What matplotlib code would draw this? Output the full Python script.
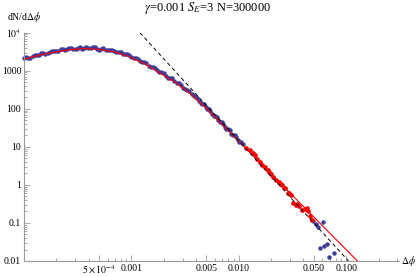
import matplotlib
matplotlib.use('Agg')
import matplotlib.pyplot as plt
from matplotlib.ticker import FixedLocator, FixedFormatter, NullFormatter

plt.rcParams['font.family'] = 'Liberation Serif'
plt.rcParams['mathtext.fontset'] = 'stix'

# histogram points (blue, dense part)
dphi_blue = [1.00e-4, 1.096e-4, 1.202e-4, 1.318e-4, 1.445e-4, 1.585e-4, 1.738e-4, 1.905e-4,
             2.089e-4, 2.291e-4, 2.512e-4, 2.754e-4, 3.020e-4, 3.311e-4, 3.631e-4, 3.981e-4,
             4.365e-4, 4.786e-4, 5.248e-4, 5.754e-4, 6.310e-4, 6.918e-4, 7.586e-4, 8.318e-4,
             9.120e-4, 1.0e-3, 1.096e-3, 1.202e-3, 1.318e-3, 1.445e-3, 1.585e-3, 1.738e-3,
             1.905e-3, 2.089e-3, 2.291e-3, 2.512e-3, 2.754e-3, 3.020e-3, 3.311e-3, 3.631e-3,
             3.981e-3, 4.266e-3, 4.571e-3, 4.898e-3, 5.248e-3, 5.623e-3, 6.026e-3, 6.457e-3,
             6.918e-3, 7.413e-3, 7.943e-3, 8.511e-3, 9.120e-3, 9.772e-3, 1.047e-2,
             1.047e-4, 1.148e-4, 1.259e-4, 1.380e-4, 1.514e-4, 1.660e-4, 1.820e-4, 1.995e-4,
             2.188e-4, 2.399e-4, 2.630e-4, 2.884e-4, 3.162e-4, 3.467e-4, 3.802e-4, 4.169e-4,
             4.571e-4, 5.012e-4, 5.495e-4, 6.026e-4, 6.607e-4, 7.244e-4, 7.943e-4, 8.710e-4,
             9.550e-4, 1.047e-3, 1.148e-3, 1.259e-3, 1.380e-3, 1.514e-3, 1.660e-3, 1.820e-3,
             1.995e-3, 2.188e-3, 2.399e-3, 2.630e-3, 2.884e-3, 3.162e-3, 3.467e-3, 3.802e-3,
             4.121e-3, 4.416e-3, 4.732e-3, 5.070e-3, 5.433e-3, 5.821e-3, 6.237e-3, 6.683e-3,
             7.161e-3, 7.674e-3, 8.222e-3, 8.810e-3, 9.441e-3, 1.012e-2, 1.084e-2]
dn_blue = [2138, 2138, 2512, 2570, 2944, 2825, 3119, 3357,
           3281, 3673, 3664, 3890, 3776, 4121, 3999, 4055,
           4083, 3741, 3828, 3581, 3597, 3214, 3119, 2793,
           2685, 2280, 2113, 1828, 1694, 1368, 1227, 1028,
           920, 729, 650, 540, 468, 361, 311, 246,
           202, 157, 137, 112, 96.2, 73.8, 63.4, 50.9,
           43.9, 33.6, 28.9, 22.1, 20.0, 15.3, 13.2,
           2291, 2213, 2661, 2630, 2917, 2871, 3388, 3281,
           3639, 3428, 3999, 3793, 4036, 3837, 4315, 3936,
           4093, 3614, 3926, 3467, 3483, 3062, 3162, 2679,
           2594, 2099, 2084, 1702, 1560, 1253, 1205, 951,
           859, 658, 628, 485, 421, 324, 296, 218,
           187, 141, 131, 100, 86.3, 66.1, 61.0, 46.2,
           40.2, 29.8, 27.4, 20.8, 17.9, 13.7, 11.9]

# sparse tail points (blue)
dphi_tail = [0.0488, 0.0520, 0.0543, 0.0604, 0.0566, 0.0618, 0.0659, 0.0687, 0.0766]
dn_tail = [0.111, 0.0925, 0.0771, 0.104, 0.0216, 0.0244, 0.0275, 0.0125, 0.0160]

# points used for the fit (red)
dphi_red = [0.01161, 0.01265, 0.01349, 0.0140, 0.01469, 0.01567, 0.01637, 0.01746, 0.01862,
            0.0190, 0.01986, 0.0207, 0.0221, 0.0236, 0.0245, 0.0251, 0.0268, 0.0286, 0.0295,
            0.0305, 0.0318, 0.0339, 0.0350, 0.0361, 0.0385, 0.0411, 0.0430, 0.0440, 0.0457, 0.0478]
dn_red = [9.24, 8.18, 6.82, 6.0, 4.74, 3.95, 3.30, 2.92, 2.44,
          2.2, 1.91, 1.60, 1.33, 1.18, 1.05, 0.98, 0.82, 0.605, 0.60,
          0.536, 0.330, 0.292, 0.31, 0.275, 0.216, 0.230, 0.244, 0.20, 0.150, 0.118]

# fitted curve (red line)
dphi_fit = [1.0e-4, 1.4e-4, 1.95e-4, 2.7e-4, 3.7e-4, 5.1e-4, 7.0e-4, 9.7e-4, 1.34e-3,
            1.84e-3, 2.54e-3, 3.5e-3, 4.83e-3, 6.66e-3, 9.6e-3, 0.0194, 0.04, 0.08, 0.13]
dn_fit = [2000, 2590, 3100, 3600, 3840, 3610, 3100, 2300, 1500,
          870, 505, 259, 111, 44.7, 15.8, 2.12, 0.270, 0.0374, 0.00939]

# power law guide (dashed)
dphi_guide = [1.2e-3, 0.105]
dn_guide = [1e4, 0.01]

xticks = [5e-4, 1e-3, 5e-3, 1e-2, 5e-2, 1e-1]
xtick_labels = [r'$5\times10^{-4}$', '0.001', '0.005', '0.010', '0.050', '0.100']
yticks = [0.01, 0.1, 1, 10, 100, 1000, 1e4]
ytick_labels = ['0.01', '0.1', '1', '10', '100', '1000', r'$10^4$']

blue = '#3d3d99'
gray = '#999999'

fig = plt.figure(figsize=(4.16, 2.77), dpi=100)
ax = fig.add_axes([0.0577, 0.0578, 0.9014, 0.8242])

ax.plot(dphi_blue, dn_blue, 'o', color=blue, ms=3.2, mew=0, clip_on=False)
ax.plot(dphi_tail, dn_tail, 'o', color=blue, ms=3.2, mew=0)
ax.plot(dphi_red, dn_red, 'o', color='red', ms=3.4, mew=0)
ax.plot(dphi_fit, dn_fit, '-', color='red', lw=0.8)
ax.plot(dphi_guide, dn_guide, '--', color='black', lw=0.7, dashes=(4, 3))

ax.set_xscale('log')
ax.set_yscale('log')
ax.set_xlim(1e-4, 0.31)
ax.set_ylim(0.01, 1e4)

ax.xaxis.set_major_locator(FixedLocator(xticks))
ax.xaxis.set_major_formatter(FixedFormatter(xtick_labels))
xminor = [m * 10.0 ** e for e in range(-4, 0) for m in range(1, 10)]
xminor = [v for v in xminor if v <= 0.31 and not any(abs(v - t) < 1e-9 for t in xticks)]
ax.xaxis.set_minor_locator(FixedLocator(xminor))
ax.xaxis.set_minor_formatter(NullFormatter())

ax.yaxis.set_major_locator(FixedLocator(yticks))
ax.yaxis.set_major_formatter(FixedFormatter(ytick_labels))
yminor = [m * 10.0 ** e for e in range(-2, 4) for m in range(2, 10)]
ax.yaxis.set_minor_locator(FixedLocator(yminor))
ax.yaxis.set_minor_formatter(NullFormatter())

for s in ['top', 'right']:
    ax.spines[s].set_visible(False)
for s in ['left', 'bottom']:
    ax.spines[s].set_color(gray)
    ax.spines[s].set_linewidth(0.8)

ax.tick_params(which='both', direction='in', color=gray, labelsize=7, pad=2, width=0.6)
ax.tick_params(which='major', length=4)
ax.tick_params(which='minor', length=2)

fig.text(0.5, 1 - 8 / 277, r'$\gamma$=0.001 $S_E$=3 N=300000', ha='center', va='center', fontsize=9)
fig.text(7 / 416, 1 - 17 / 277, r'dN/d$\Delta\phi$', ha='left', va='center', fontsize=7)
fig.text(401 / 416, 1 - 261 / 277, r'$\Delta\phi$', ha='left', va='center', fontsize=7)

fig.savefig('out.png', dpi=100)
